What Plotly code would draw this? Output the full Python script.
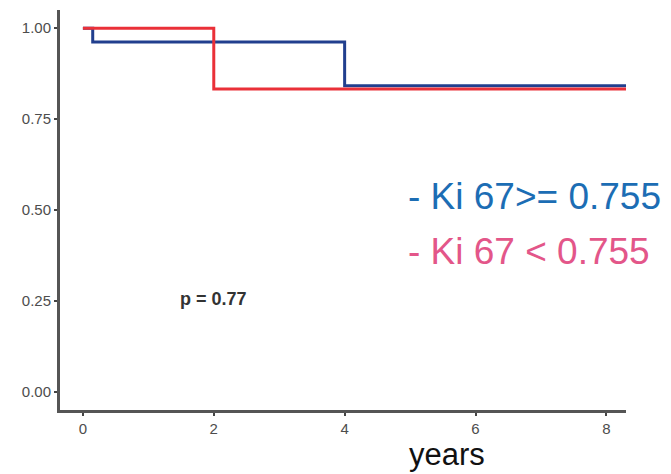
import plotly.graph_objects as go

# Kaplan-Meier step data
blue_x = [0.0, 0.15, 4.0, 8.3]
blue_y = [1.0, 0.962, 0.842, 0.842]
red_x = [0.0, 2.0, 8.3]
red_y = [1.0, 0.833, 0.833]

x_ticks = [0, 2, 4, 6, 8]
y_ticks = [0.0, 0.25, 0.5, 0.75, 1.0]
y_tick_labels = ["0.00", "0.25", "0.50", "0.75", "1.00"]

legend_labels = ["- Ki 67>= 0.755", "- Ki 67 < 0.755"]
p_label = "p = 0.77"
x_title = "years"

fig = go.Figure()
fig.add_trace(go.Scatter(x=blue_x, y=blue_y, mode="lines", line=dict(shape="hv", color="#213f8e", width=3),
                         name=legend_labels[0], showlegend=False, cliponaxis=False))
fig.add_trace(go.Scatter(x=red_x, y=red_y, mode="lines", line=dict(shape="hv", color="#ea3038", width=3),
                         name=legend_labels[1], showlegend=False, cliponaxis=False))

narrow = "Liberation Sans Narrow, Arial Narrow, Liberation Sans, Arial"

fig.add_annotation(x=0.612, y=0.535, xref="paper", yref="paper", text=legend_labels[0], showarrow=False,
                   xanchor="left", yanchor="middle", font=dict(family=narrow, size=37, color="#1c6db4"))
fig.add_annotation(x=0.612, y=0.397, xref="paper", yref="paper", text=legend_labels[1].replace("<", "&lt;"),
                   showarrow=False, xanchor="left", yanchor="middle",
                   font=dict(family=narrow, size=37, color="#e35689"))
fig.add_annotation(x=2.0, y=0.255, xref="x", yref="y", text="<b>" + p_label + "</b>", showarrow=False,
                   xanchor="center", yanchor="middle", font=dict(family="Liberation Sans, Arial", size=18, color="#333333"))
fig.add_annotation(x=0.684, y=-0.11, xref="paper", yref="paper", text=x_title, showarrow=False,
                   xanchor="center", yanchor="middle", font=dict(family=narrow, size=31, color="#111111"))

fig.update_layout(
    width=663, height=466,
    margin=dict(l=52, r=45, t=2, b=64),
    plot_bgcolor="white", paper_bgcolor="white",
    font=dict(family="Liberation Sans, Arial", color="#4d4d4d"),
)
fig.update_xaxes(range=[-0.35, 8.3], tickvals=x_ticks, ticks="outside", ticklen=3, tickcolor="#444444",
                 tickwidth=2, showgrid=False, zeroline=False, showline=True, linecolor="#555555", linewidth=3,
                 tickfont=dict(size=15, color="#4d4d4d"))
fig.update_yaxes(range=[-0.05, 1.05], tickvals=y_ticks, ticktext=y_tick_labels, ticks="outside", ticklen=3,
                 tickwidth=2, tickcolor="#444444", showgrid=False, zeroline=False, showline=True,
                 linecolor="#555555", linewidth=3, tickfont=dict(size=15, color="#4d4d4d"))

fig.write_html("out.html")
